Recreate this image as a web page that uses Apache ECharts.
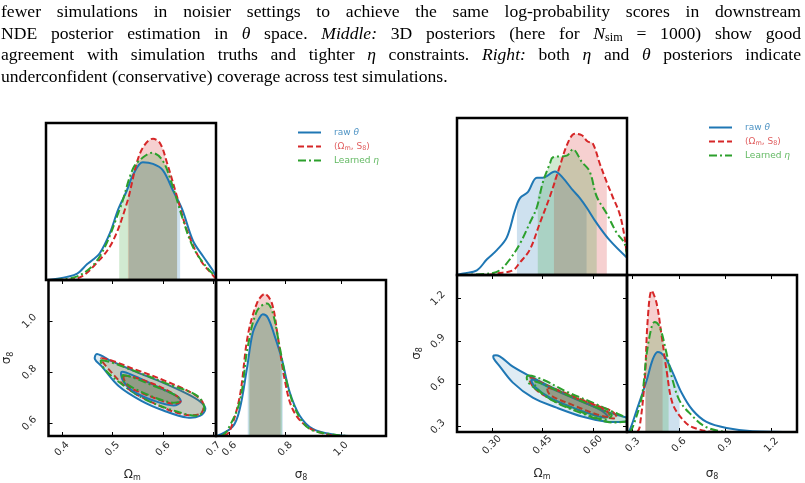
<!DOCTYPE html>
<html>
<head>
<meta charset="utf-8">
<script src="https://cdn.jsdelivr.net/npm/echarts@6/dist/echarts.min.js"></script>
<style>
html, body { margin: 0; padding: 0; background: #fff; }
#chart { width: 805px; height: 483px; }
</style>
</head>
<body>
<div id="chart"></div>
<script>
// ---- caption (rich tokens: {i|..} italic, {s|..} subscript) ----
const captionLines = [
  'fewer simulations in noisier settings to achieve the same log-probability scores in downstream',
  'NDE posterior estimation in {i|θ} space. {i|Middle:} 3D posteriors (here for {i|N}{s|sim} = 1000) show good',
  'agreement with simulation truths and tighter {i|η} constraints. {i|Right:} both {i|η} and {i|θ} posteriors indicate',
  'underconfident (conservative) coverage across test simulations.'
]

// ---- legend ----
const legendNames = ['raw θ', '(Ωm, S8)', 'Learned η']

// ---- axis ranges and ticks ----
const omRangeL = [0.373, 0.705]
const sgRangeL = [0.551, 1.162]
const omRangeR = [0.196, 0.701]
const sgRangeR = [0.263, 1.366]
const omTicksL = [0.4, 0.5, 0.6, 0.7]
const sgTicksL = [0.6, 0.8, 1.0]
const omTicksR = [0.30, 0.45, 0.60]
const sgTicksR = [0.3, 0.6, 0.9, 1.2]

// ---- left corner plot: 1D marginals [value, height] ----
const omL_raw = [[0.377,0],[0.414,0.02],[0.434,0.04],[0.453,0.10],[0.465,0.13],[0.478,0.17],[0.498,0.30],[0.514,0.45],[0.531,0.57],[0.543,0.67],[0.562,0.75],[0.582,0.74],[0.601,0.70],[0.621,0.57],[0.639,0.45],[0.660,0.25],[0.680,0.15],[0.699,0.06],[0.705,0.02]]
const omL_sum = [[0.40,0],[0.434,0.01],[0.478,0.13],[0.504,0.25],[0.531,0.49],[0.557,0.81],[0.582,0.90],[0.596,0.87],[0.609,0.75],[0.629,0.53],[0.648,0.32],[0.674,0.13],[0.699,0.03],[0.705,0.01]]
const omL_eta = [[0.39,0],[0.439,0.03],[0.478,0.15],[0.518,0.46],[0.543,0.71],[0.562,0.78],[0.580,0.81],[0.601,0.76],[0.621,0.59],[0.639,0.40],[0.660,0.21],[0.687,0.08],[0.705,0.02]]
const sgL_raw = [[0.554,0],[0.611,0.06],[0.636,0.17],[0.662,0.43],[0.683,0.66],[0.708,0.76],[0.719,0.78],[0.737,0.76],[0.762,0.64],[0.788,0.49],[0.816,0.28],[0.852,0.13],[0.899,0.045],[0.971,0.01],[1.05,0],[1.162,0]]
const sgL_sum = [[0.58,0],[0.600,0.03],[0.636,0.25],[0.665,0.64],[0.698,0.85],[0.726,0.91],[0.752,0.85],[0.773,0.64],[0.798,0.36],[0.827,0.17],[0.878,0.06],[0.950,0.01],[1.0,0],[1.162,0]]
const sgL_eta = [[0.57,0],[0.590,0.03],[0.636,0.22],[0.665,0.57],[0.698,0.80],[0.734,0.85],[0.755,0.79],[0.780,0.57],[0.806,0.34],[0.842,0.15],[0.888,0.045],[0.971,0.01],[1.05,0],[1.162,0]]
// 68% bands: [[lo, height], [hi, height]]
const bandL_om = { raw: [[0.535,0.60],[0.635,0.48]], sum: [[0.533,0.52],[0.629,0.53]], eta: [[0.516,0.45],[0.629,0.50]] }
const bandL_sg = { raw: [[0.665,0.46],[0.791,0.47]], sum: [[0.672,0.70],[0.783,0.53]], eta: [[0.669,0.60],[0.788,0.50]] }
// 2D contours [Omega_m, sigma_8]
const ctL_raw95 = [[0.469,0.872],[0.498,0.844],[0.543,0.805],[0.596,0.763],[0.648,0.716],[0.674,0.685],[0.684,0.658],[0.674,0.631],[0.648,0.623],[0.602,0.650],[0.557,0.689],[0.512,0.747],[0.478,0.825],[0.465,0.852]]
const ctL_raw68 = [[0.518,0.802],[0.543,0.786],[0.590,0.743],[0.629,0.705],[0.635,0.685],[0.621,0.670],[0.582,0.689],[0.543,0.724],[0.521,0.767]]
const ctL_sum95 = [[0.478,0.856],[0.543,0.813],[0.609,0.763],[0.660,0.716],[0.680,0.677],[0.674,0.638],[0.635,0.638],[0.576,0.685],[0.531,0.736],[0.492,0.813]]
const ctL_sum68 = [[0.523,0.786],[0.570,0.763],[0.621,0.716],[0.635,0.689],[0.621,0.677],[0.576,0.705],[0.531,0.747]]
const ctL_eta95 = [[0.478,0.848],[0.543,0.806],[0.609,0.755],[0.668,0.708],[0.682,0.658],[0.668,0.631],[0.629,0.646],[0.570,0.689],[0.523,0.747],[0.484,0.813]]
const ctL_eta68 = [[0.521,0.790],[0.582,0.747],[0.629,0.705],[0.631,0.685],[0.609,0.685],[0.557,0.724],[0.523,0.763]]

// ---- right corner plot ----
const omR_raw = [[0.196,0],[0.215,0.01],[0.255,0.03],[0.285,0.10],[0.315,0.16],[0.344,0.24],[0.368,0.41],[0.383,0.49],[0.407,0.53],[0.433,0.62],[0.451,0.62],[0.487,0.66],[0.510,0.62],[0.540,0.54],[0.561,0.49],[0.581,0.43],[0.611,0.33],[0.650,0.22],[0.701,0.11]]
const omR_sum = [[0.29,0],[0.315,0.01],[0.362,0.03],[0.383,0.08],[0.412,0.16],[0.442,0.33],[0.472,0.50],[0.501,0.69],[0.525,0.84],[0.546,0.90],[0.567,0.89],[0.584,0.85],[0.599,0.84],[0.620,0.71],[0.641,0.59],[0.658,0.50],[0.679,0.39],[0.694,0.24],[0.701,0.11]]
const omR_eta = [[0.205,0],[0.294,0.01],[0.323,0.03],[0.353,0.10],[0.383,0.20],[0.412,0.33],[0.433,0.43],[0.451,0.59],[0.472,0.71],[0.481,0.75],[0.522,0.76],[0.540,0.80],[0.567,0.72],[0.590,0.66],[0.611,0.50],[0.641,0.39],[0.670,0.27],[0.694,0.20],[0.701,0.11]]
const sgR_raw = [[0.263,0],[0.280,0.01],[0.326,0.14],[0.391,0.33],[0.429,0.46],[0.462,0.51],[0.507,0.48],[0.559,0.38],[0.617,0.25],[0.688,0.14],[0.779,0.064],[0.909,0.025],[1.077,0.005],[1.366,0]]
const sgR_sum = [[0.33,0],[0.345,0.03],[0.378,0.33],[0.397,0.71],[0.423,0.90],[0.455,0.82],[0.488,0.61],[0.520,0.39],[0.559,0.18],[0.624,0.08],[0.688,0.03],[0.844,0],[1.366,0]]
const sgR_eta = [[0.28,0],[0.300,0.03],[0.358,0.22],[0.391,0.50],[0.423,0.67],[0.442,0.70],[0.475,0.67],[0.520,0.50],[0.559,0.33],[0.604,0.20],[0.669,0.12],[0.779,0.03],[0.947,0],[1.366,0]]
const bandR_om = { raw: [[0.374,0.47],[0.581,0.43]], sum: [[0.484,0.61],[0.641,0.58]], eta: [[0.436,0.50],[0.611,0.50]] }
const bandR_sg = { raw: [[0.384,0.31],[0.604,0.28]], sum: [[0.380,0.36],[0.494,0.57]], eta: [[0.384,0.44],[0.533,0.45]] }
const ctR_raw95 = [[0.305,0.800],[0.323,0.795],[0.362,0.722],[0.421,0.645],[0.492,0.560],[0.570,0.476],[0.641,0.406],[0.688,0.372],[0.705,0.360],[0.705,0.340],[0.688,0.335],[0.641,0.335],[0.570,0.370],[0.492,0.434],[0.421,0.504],[0.362,0.610],[0.323,0.724],[0.305,0.780]]
const ctR_raw68 = [[0.418,0.631],[0.472,0.574],[0.552,0.490],[0.620,0.420],[0.644,0.370],[0.620,0.370],[0.540,0.434],[0.472,0.504],[0.427,0.581]]
const ctR_sum95 = [[0.412,0.645],[0.472,0.581],[0.552,0.504],[0.620,0.441],[0.658,0.406],[0.670,0.363],[0.641,0.363],[0.570,0.406],[0.501,0.469],[0.442,0.539],[0.418,0.596]]
const ctR_sum68 = [[0.466,0.574],[0.546,0.504],[0.635,0.420],[0.650,0.370],[0.614,0.385],[0.537,0.455],[0.472,0.525]]
const ctR_eta95 = [[0.406,0.659],[0.451,0.631],[0.522,0.546],[0.599,0.469],[0.658,0.406],[0.694,0.370],[0.705,0.355],[0.694,0.335],[0.641,0.335],[0.561,0.399],[0.492,0.469],[0.433,0.560],[0.406,0.617]]
const ctR_eta68 = [[0.427,0.617],[0.501,0.546],[0.590,0.455],[0.655,0.385],[0.635,0.349],[0.561,0.406],[0.487,0.476],[0.436,0.560]]

const BLUE = '#1f77b4', RED = '#d62728', GREEN = '#2ca02c'
const FONT = '"DejaVu Sans", sans-serif'
const SERIF = '"Liberation Serif", "Times New Roman", serif'
const styles = {
  raw: { name: legendNames[0], color: BLUE, dash: 'solid' },
  sum: { name: legendNames[1], color: RED, dash: [6, 3] },
  eta: { name: legendNames[2], color: GREEN, dash: [8, 3, 2, 3] }
}

function rgba(hex, a) {
  const n = parseInt(hex.slice(1), 16)
  return 'rgba(' + (n >> 16) + ',' + ((n >> 8) & 255) + ',' + (n & 255) + ',' + a + ')'
}

function buildCaption() {
  const ctx = document.createElement('canvas').getContext('2d')
  const size = 17.6
  const fonts = { n: size + 'px ' + SERIF, i: 'italic ' + size + 'px ' + SERIF, s: '12.2px ' + SERIF }
  const left = 1, right = 801, ys = [12, 34, 55.5, 77]
  const els = []
  captionLines.forEach((line, li) => {
    const words = line.split(' ').map(w => {
      const pieces = []
      const re = /\{(\w)\|([^}]*)\}|([^{]+)/g
      let m
      while ((m = re.exec(w))) pieces.push(m[3] !== undefined ? { k: 'n', t: m[3] } : { k: m[1], t: m[2] })
      pieces.forEach(p => { ctx.font = fonts[p.k]; p.w = ctx.measureText(p.t).width })
      return { pieces, w: pieces.reduce((a, p) => a + p.w, 0) }
    })
    ctx.font = fonts.n
    const total = words.reduce((a, w) => a + w.w, 0)
    const gap = li < 3 ? (right - left - total) / (words.length - 1) : ctx.measureText(' ').width
    let x = left
    words.forEach(w => {
      w.pieces.forEach(p => {
        els.push({
          type: 'text', x: x, y: ys[li] + (p.k === 's' ? 4 : 0), silent: true,
          style: { text: p.t, font: fonts[p.k], fill: '#000', verticalAlign: 'middle', textVerticalAlign: 'middle' }
        })
        x += p.w
      })
      x += gap
    })
  })
  return els
}

const nameOm = '{a|Ω}{b|m}'
const nameSg = '{a|σ}{b|8}'

function valAxis(gridIndex, range, position, ticks, digits, name, nameGap) {
  const labeled = digits !== undefined
  const isY = position === 'left' || position === 'right'
  return {
    gridIndex: gridIndex, type: 'value', position: position, min: range[0], max: range[1],
    axisLine: { show: false }, splitLine: { show: false },
    axisTick: { show: true, inside: true, length: 4, lineStyle: { color: '#000', width: 1 }, customValues: ticks },
    axisLabel: labeled ? {
      show: true, customValues: ticks, formatter: v => v.toFixed(digits), rotate: 45,
      align: 'center', verticalAlign: 'middle', margin: isY ? 19 : 13,
      fontFamily: FONT, fontSize: 10, color: '#2b2b2b'
    } : { show: false },
    name: labeled ? name : '', nameLocation: 'middle', nameGap: nameGap, nameRotate: isY ? 90 : 0,
    nameTextStyle: {
      color: '#2b2b2b', fontFamily: FONT,
      rich: { a: { fontSize: 12, fontFamily: FONT, color: '#2b2b2b' }, b: { fontSize: 8, fontFamily: FONT, color: '#2b2b2b', padding: [7, 0, 0, 0] } }
    }
  }
}

function hiddenAxis(gridIndex, range) {
  return { gridIndex: gridIndex, type: 'value', min: range[0], max: range[1], show: false }
}

function curveSeries(key, data, xi, yi) {
  const s = styles[key]
  return {
    type: 'line', name: s.name, xAxisIndex: xi, yAxisIndex: yi, data: data, symbol: 'none',
    smooth: 0.35, silent: true, z: 3,
    lineStyle: { color: s.color, width: 2, type: s.dash }, itemStyle: { color: s.color }
  }
}

function bandSeries(key, curve, band, xi, yi) {
  const lo = band[0], hi = band[1]
  const pts = [lo].concat(curve.filter(p => p[0] > lo[0] && p[0] < hi[0]), [hi])
  return {
    type: 'line', xAxisIndex: xi, yAxisIndex: yi, data: pts, symbol: 'none',
    smooth: 0.35, silent: true, z: 1,
    lineStyle: { width: 0, opacity: 0 },
    areaStyle: { color: styles[key].color, opacity: 0.22 }
  }
}

function contourSeries(key, pts, xi, yi, alpha) {
  const s = styles[key]
  return {
    type: 'custom', xAxisIndex: xi, yAxisIndex: yi, data: pts, clip: true, silent: true, z: 2,
    renderItem: function (params, api) {
      if (params.dataIndex !== 0) return null
      return {
        type: 'polygon',
        shape: { points: pts.map(p => api.coord(p)), smooth: 0.35 },
        style: { fill: rgba(s.color, alpha), stroke: s.color, lineWidth: 2, lineDash: s.dash === 'solid' ? null : s.dash }
      }
    }
  }
}

function marginal(curves, bands, xi, yi) {
  const out = []
  ;['raw', 'sum', 'eta'].forEach(k => out.push(bandSeries(k, curves[k], bands[k], xi, yi)))
  ;['raw', 'sum', 'eta'].forEach(k => out.push(curveSeries(k, curves[k], xi, yi)))
  return out
}

function contours(sets, xi, yi) {
  const out = []
  ;['raw', 'sum', 'eta'].forEach(k => out.push(contourSeries(k, sets[k][0], xi, yi, 0.14)))
  ;['raw', 'sum', 'eta'].forEach(k => out.push(contourSeries(k, sets[k][1], xi, yi, 0.2)))
  return out
}

const legendFmt = {}
legendFmt[legendNames[0]] = '{b|raw }{bi|θ}'
legendFmt[legendNames[1]] = '{r|(Ω}{rs|m}{r|, S}{rs|8}{r|)}'
legendFmt[legendNames[2]] = '{g|Learned }{gi|η}'

function legendAt(left, top) {
  const base = { fontFamily: FONT, fontSize: 9, lineHeight: 11 }
  const sub = { fontFamily: FONT, fontSize: 6.5, lineHeight: 11, padding: [4, 0, 0, 0] }
  return {
    left: left, top: top, padding: 0, orient: 'vertical', itemWidth: 23, itemHeight: 10, itemGap: 4,
    selectedMode: false, data: legendNames, formatter: n => legendFmt[n],
    itemStyle: { opacity: 0 },
    textStyle: {
      fontFamily: FONT, fontSize: 9, padding: [0, 0, 0, 8],
      rich: {
        b: Object.assign({ color: rgba(BLUE, 0.8) }, base),
        bi: Object.assign({ color: rgba(BLUE, 0.8), fontStyle: 'italic' }, base),
        r: Object.assign({ color: rgba(RED, 0.75) }, base),
        rs: Object.assign({ color: rgba(RED, 0.75) }, sub),
        g: Object.assign({ color: rgba(GREEN, 0.75) }, base),
        gi: Object.assign({ color: rgba(GREEN, 0.75), fontStyle: 'italic' }, base)
      }
    }
  }
}

const gridBase = { show: true, borderColor: '#000', borderWidth: 2.5, z: 10, backgroundColor: 'transparent' }

let option = {
  animation: false,
  backgroundColor: '#fff',
  graphic: { elements: buildCaption() },
  legend: [legendAt(297, 128), legendAt(708, 123)],
  grid: [
    Object.assign({ left: 46, top: 123, width: 170, height: 157 }, gridBase),
    Object.assign({ left: 46, top: 280, width: 170, height: 157 }, gridBase),
    Object.assign({ left: 216, top: 280, width: 170, height: 157 }, gridBase),
    Object.assign({ left: 457, top: 118, width: 170, height: 157 }, gridBase),
    Object.assign({ left: 457, top: 275, width: 170, height: 157 }, gridBase),
    Object.assign({ left: 627, top: 275, width: 170, height: 157 }, gridBase)
  ],
  xAxis: [
    hiddenAxis(0, omRangeL),
    valAxis(1, omRangeL, 'bottom', omTicksL, 1, nameOm, 31),
    valAxis(1, omRangeL, 'top', omTicksL),
    valAxis(2, sgRangeL, 'bottom', sgTicksL, 1, nameSg, 31),
    valAxis(2, sgRangeL, 'top', sgTicksL),
    hiddenAxis(3, omRangeR),
    valAxis(4, omRangeR, 'bottom', omTicksR, 2, nameOm, 34),
    valAxis(4, omRangeR, 'top', omTicksR),
    valAxis(5, sgRangeR, 'bottom', sgTicksR, 1, nameSg, 34),
    valAxis(5, sgRangeR, 'top', sgTicksR)
  ],
  yAxis: [
    hiddenAxis(0, [0, 1]),
    valAxis(1, sgRangeL, 'left', sgTicksL, 1, nameSg, 34),
    valAxis(1, sgRangeL, 'right', sgTicksL),
    hiddenAxis(2, [0, 1]),
    hiddenAxis(3, [0, 1]),
    valAxis(4, sgRangeR, 'left', sgTicksR, 1, nameSg, 33),
    valAxis(4, sgRangeR, 'right', sgTicksR),
    hiddenAxis(5, [0, 1])
  ],
  series: [].concat(
    marginal({ raw: omL_raw, sum: omL_sum, eta: omL_eta }, bandL_om, 0, 0),
    contours({ raw: [ctL_raw95, ctL_raw68], sum: [ctL_sum95, ctL_sum68], eta: [ctL_eta95, ctL_eta68] }, 1, 1),
    marginal({ raw: sgL_raw, sum: sgL_sum, eta: sgL_eta }, bandL_sg, 3, 3),
    marginal({ raw: omR_raw, sum: omR_sum, eta: omR_eta }, bandR_om, 5, 4),
    contours({ raw: [ctR_raw95, ctR_raw68], sum: [ctR_sum95, ctR_sum68], eta: [ctR_eta95, ctR_eta68] }, 6, 5),
    marginal({ raw: sgR_raw, sum: sgR_sum, eta: sgR_eta }, bandR_sg, 8, 7)
  )
}

const chart = echarts.init(document.getElementById('chart'))
chart.setOption(option)
</script>
</body>
</html>
